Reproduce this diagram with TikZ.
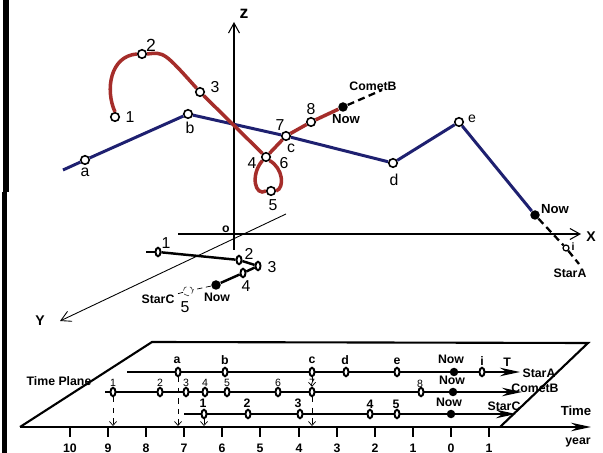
\documentclass[tikz,border=0pt]{standalone}
\usepackage{fontspec}
\setmainfont{Liberation Sans}
\usepackage{xcolor}
\usetikzlibrary{calc,positioning,arrows.meta,shapes.geometric}
\definecolor{orbitblue}{RGB}{30,32,112}
\definecolor{orbitred}{RGB}{165,45,42}

\begin{document}
\begin{tikzpicture}[
    x=0.2mm, y=-0.2mm,
    font=\fontsize{9}{10}\selectfont,
    omark/.style={circle, draw=black, line width=0.9pt, fill=white, minimum size=1.7mm, inner sep=0pt},
    tmark/.style={ellipse, draw=black, line width=1.1pt, fill=white, minimum width=1mm, minimum height=1.7mm, inner sep=0pt},
    nowmark/.style={circle, fill=black, minimum size=1.9mm, inner sep=0pt},
    starA/.style={draw=orbitblue, line width=1.7pt},
    cometB/.style={draw=orbitred, line width=2pt},
    future/.style={draw=black, line width=1.3pt, dash pattern=on 4pt off 2.5pt},
    coordaxis/.style={draw=black, line width=0.6pt, -{Straight Barb[length=2mm,width=2.2mm]}},
    timeline/.style={draw=black, line width=1.2pt, -{Stealth[length=4mm,width=1.7mm]}},
    drop/.style={draw=black, thin, dashed, -{Straight Barb[length=0.8mm,width=1.4mm]}},
    tagtext/.style={font=\fontsize{7}{8}\selectfont\bfseries, inner sep=0.5pt},
    digit/.style={font=\fontsize{9}{10}\selectfont, inner sep=0.5pt},
    tdigit/.style={font=\fontsize{6}{7}\selectfont, inner sep=0.5pt},
    yearnum/.style={font=\fontsize{7}{8}\selectfont\bfseries, inner sep=0.5pt}
]
\useasboundingbox (0,0) rectangle (603,453);

% frame bar on the left
\fill (3,0) rectangle (9,192);
\fill (2,192) rectangle (7,453);

% space axes
\coordinate (O) at (234,234);
\coordinate (Ztop) at (234,22);
\coordinate (Zbot) at (234,250);
\coordinate (Xleft) at (178,234);
\coordinate (Xend) at (581,234);
\coordinate (Yback) at (286,214);
\coordinate (Yend) at (60,321);
\draw[coordaxis] (Zbot) -- (Ztop);
\draw[coordaxis] (Xleft) -- (Xend);
\draw[coordaxis, line width=0.5pt] (Yback) -- (Yend);
\node[tagtext, font=\fontsize{10}{11}\selectfont\bfseries] (zlab) at (244,14) {z};
\node[tagtext, font=\fontsize{8}{9}\selectfont\bfseries] (xlab) at (591,237) {X};
\node[tagtext, font=\fontsize{8}{9}\selectfont\bfseries] (ylab) at (40,321) {Y};
\node[tagtext] (olab) at (226,229) {o};

% StarA in space
\coordinate (A0) at (63,170);
\node[omark] (a) at (85,160) {};
\node[omark] (b) at (188,114) {};
\node[omark] (c) at (286,136) {};
\node[omark] (d) at (393,163) {};
\node[omark] (e) at (459,122) {};
\node[nowmark] (nowA) at (535,215) {};
\node[omark, minimum size=1.2mm, line width=0.7pt] (i) at (566,248) {};
\coordinate (A9) at (579,264);
\draw[starA] (A0) -- (a) -- (b) -- (c) -- (d) -- (e) -- (nowA);
\draw[future] (nowA) -- (i) -- (A9);
\node[digit] (la) at (85,172) {a};
\node[digit] (lb) at (190,128) {b};
\node[digit] (lc) at (291,148) {c};
\node[digit] (ld) at (394,180) {d};
\node[digit, font=\fontsize{8}{9}\selectfont] (le) at (472,119) {e};
\node[tagtext, font=\fontsize{7.5}{8}\selectfont\bfseries] (lnowA) at (555,209) {Now};
\node[tagtext, font=\fontsize{6}{7}\selectfont\bfseries] (li) at (573,247) {i};
\node[tagtext] (lStarA) at (570,273) {StarA};

% CometB in space
\node[omark] (k1) at (115,117) {};
\node[omark] (k2) at (142,54) {};
\node[omark] (k3) at (200,92) {};
\node[omark] (k4) at (266,157) {};
\node[omark] (k5) at (271,191) {};
\node[omark] (k8) at (311,122) {};
\node[nowmark] (nowB) at (343,107) {};
\coordinate (B9) at (382,90);
\draw[cometB] (k1.north) .. controls (105,90) and (110,56) .. (k2.west);
\draw[cometB] (k2.east) .. controls (164,52) .. (k3);
\draw[cometB] (k3) -- (k4);
\draw[cometB] (k4.south west) .. controls (250,175) and (255,197) .. (k5.west);
\draw[cometB] (k5.east) .. controls (285,188) and (283,168) .. (k4.south east);
\draw[cometB] (k4) -- (c);
\draw[cometB] (c) -- (k8) -- (nowB);
\draw[future] (nowB) -- (B9);
\node[digit] (l1) at (130,117) {1};
\node[digit, font=\fontsize{10}{11}\selectfont] (l2) at (151,45) {2};
\node[digit] (l3) at (215,87) {3};
\node[digit] (l4) at (252,163) {4};
\node[digit] (l5) at (273,205) {5};
\node[digit] (l6) at (284,163) {6};
\node[digit] (l7) at (280,125) {7};
\node[digit] (l8) at (311,109) {8};
\node[tagtext, font=\fontsize{7.5}{8}\selectfont\bfseries] (lnowB) at (346,119) {Now};
\node[tagtext] (lCometB) at (373,86) {CometB};

% StarC in space
\coordinate (C0) at (146,252);
\node[tmark] (q1) at (158,252) {};
\node[tmark] (q2) at (239,260) {};
\node[tmark] (q3) at (258,266) {};
\node[tmark] (q4) at (243,273) {};
\node[nowmark] (nowC) at (216,285) {};
\node[circle, draw=black!70, densely dashed, thin, minimum size=1.9mm, inner sep=0pt] (q5) at (188,291) {};
\draw[line width=1.4pt] (C0) -- (q1);
\draw[line width=1.4pt] (q1) -- (q2) -- (q3) -- (q4) -- (nowC);
\node[tagtext] (lStarC) at (158,299) {StarC};
\draw[densely dashed, thin] (nowC) -- (q5) -- (lStarC);
\node[digit] (m1) at (166,243) {1};
\node[digit] (m2) at (249,254) {2};
\node[digit] (m3) at (272,267) {3};
\node[digit] (m4) at (246,286) {4};
\node[digit] (m5) at (185,307) {5};
\node[tagtext] (lnowC) at (217,297) {Now};

% time plane
\coordinate (TL) at (152,342);
\coordinate (TR) at (588,343);
\coordinate (BL) at (20,427);
\coordinate (BR) at (500,427);
\coordinate (Tend) at (591,427);
\draw[line width=1.2pt] (BR) -- (TR) -- (TL) -- (BL);
\draw[timeline] (BL) -- (Tend);
\foreach \x/\yr [count=\n] in {489/1,451/0,413/1,375/2,337/3,299/4,260/5,222/6,184/7,146/8,108/9,70/10}{
  \draw[line width=1.2pt] (\x,427) -- (\x,437);
  \node[yearnum] (yr\n) at (\x,448) {\yr};
}
\node[tagtext] (lplane) at (59,381) {Time Plane};
\node[tagtext, font=\fontsize{7.5}{8}\selectfont\bfseries] (ltime) at (576,411) {Time};
\node[tagtext] (lyear) at (578,442) {year};

% StarA on the time plane
\coordinate (SAstart) at (127,372);
\coordinate (SAend) at (520,372);
\draw[timeline] (SAstart) -- (SAend);
\node[tmark] (ta) at (178,372) {};
\node[tmark] (tb) at (225,372) {};
\node[tmark] (tc) at (312,372) {};
\node[tmark] (td) at (346,372) {};
\node[tmark] (te) at (397,372) {};
\node[nowmark, minimum size=1.7mm] (tnowA) at (454,372) {};
\node[tmark] (ti) at (482,372) {};
\node[tagtext] (tla) at (177,360) {a};
\node[tagtext] (tlb) at (225,360) {b};
\node[tagtext] (tlc) at (312,360) {c};
\node[tagtext] (tld) at (345,360) {d};
\node[tagtext] (tle) at (397,361) {e};
\node[tagtext] (tlnowA) at (451,359) {Now};
\node[tagtext] (tli) at (482,361) {i};
\node[tagtext] (tlT) at (507,362) {T};
\node[tagtext] (tlStarA) at (539,373) {StarA};

% CometB on the time plane
\coordinate (CBstart) at (105,392);
\coordinate (CBend) at (522,392);
\draw[timeline] (CBstart) -- (CBend);
\node[tmark] (t1) at (113,392) {};
\node[tmark] (t2) at (160,392) {};
\node[tmark] (t3) at (186,392) {};
\node[tmark] (t4) at (205,392) {};
\node[tmark] (t5) at (227,392) {};
\node[tmark] (t6) at (278,392) {};
\node[tmark] (t7) at (312,392) {};
\node[tmark] (t8) at (421,392) {};
\node[nowmark, minimum size=1.7mm] (tnowB) at (453,392) {};
\node[tdigit] (tl1) at (113,383) {1};
\node[tdigit] (tl2) at (160,383) {2};
\node[tdigit] (tl3) at (186,383) {3};
\node[tdigit] (tl4) at (205,383) {4};
\node[tdigit] (tl5) at (227,383) {5};
\node[tdigit] (tl6) at (278,383) {6};
\node[tdigit] (tl7) at (312,383) {7};
\node[tdigit] (tl8) at (420,384) {8};
\node[tagtext] (tlnowB) at (452,380) {Now};
\node[tagtext] (tlCometB) at (535,388) {CometB};

% StarC on the time plane
\coordinate (SCstart) at (184,414);
\coordinate (SCend) at (516,414);
\draw[timeline] (SCstart) -- (SCend);
\node[tmark] (s1) at (204,414) {};
\node[tmark] (s2) at (248,414) {};
\node[tmark] (s3) at (300,414) {};
\node[tmark] (s4) at (370,414) {};
\node[tmark] (s5) at (397,414) {};
\node[nowmark, minimum size=1.7mm] (tnowC) at (451,414) {};
\node[tagtext] (sl1) at (203,403) {1};
\node[tagtext] (sl2) at (247,403) {2};
\node[tagtext] (sl3) at (298,403) {3};
\node[tagtext] (sl4) at (370,404) {4};
\node[tagtext] (sl5) at (396,404) {5};
\node[tagtext] (slnowC) at (449,402) {Now};
\node[tagtext] (slStarC) at (504,406) {StarC};

% drop lines to the time axis
\coordinate (dt1) at (113,426);
\coordinate (dta) at (178,426);
\coordinate (ds1) at (204,426);
\coordinate (dtc) at (312,426);
\draw[drop] (t1) -- (dt1);
\draw[drop] (ta) -- (dta);
\draw[drop] (s1) -- (ds1);
\draw[drop] (tc) -- (t7);
\draw[drop] (t7) -- (dtc);
\end{tikzpicture}
\end{document}
